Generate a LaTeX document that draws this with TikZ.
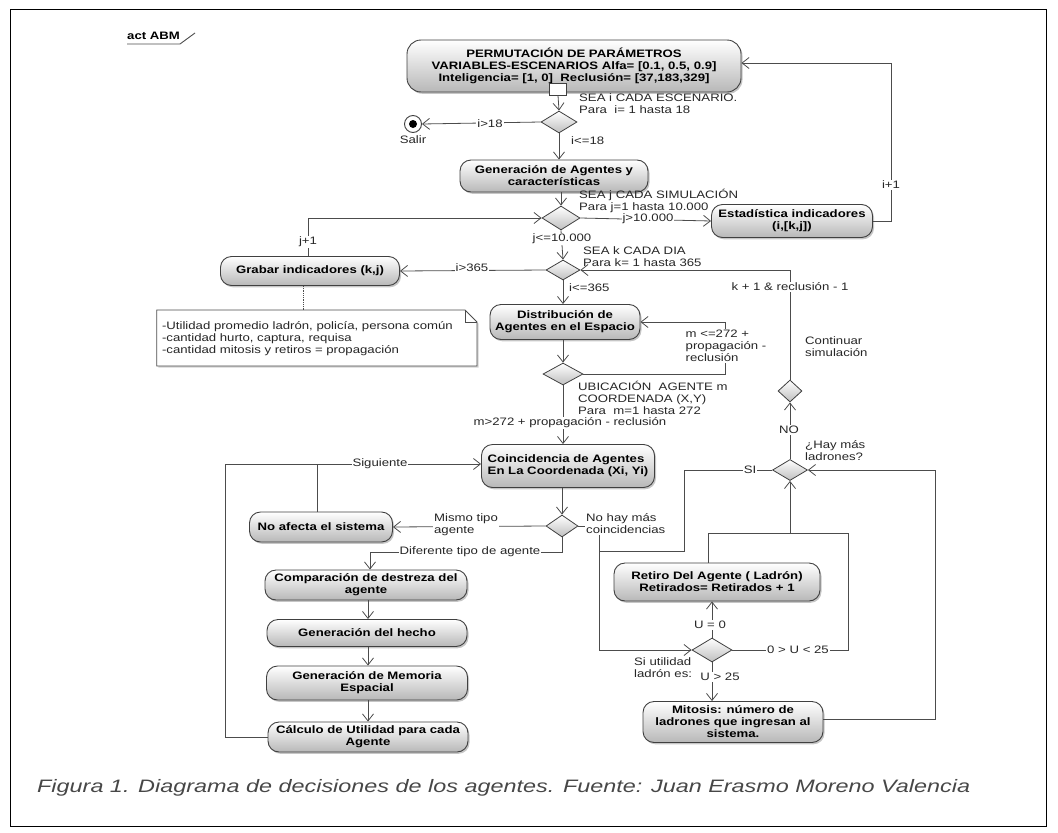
\documentclass[tikz,border=0pt]{standalone}
\usepackage{fontspec}
\setmainfont[FakeStretch=1.22]{Liberation Sans}
\newfontfamily\capfont[FakeStretch=1.3]{Liberation Sans}
\usetikzlibrary{shapes.geometric,arrows.meta,shadows}
\begin{document}
\begin{tikzpicture}[x=1pt,y=-1pt,
  act/.style={draw=black!75, line width=0.9pt, rounded corners=11pt, top color=white, bottom color=black!28,
    drop shadow={shadow xshift=1.5pt,shadow yshift=-1.8pt,opacity=0.45},
    font=\fontsize{10.8}{12}\selectfont\bfseries, align=center, inner sep=1pt},
  dec/.style={diamond, draw=black!75, line width=0.8pt, top color=white, bottom color=black!25, inner sep=0pt},
  lbl/.style={font=\fontsize{10.8}{12}\selectfont, text=black!85, inner sep=1pt, align=left},
  wl/.style={lbl, fill=white},
  flow/.style={draw=black!70, line width=0.8pt},
  arr/.style={flow, -{Straight Barb[length=7pt,width=11pt]}},
]
\useasboundingbox (0,0) rectangle (1058,833);
\draw[line width=1pt] (10,9) rectangle (1046,826);

% title tab
\node[font=\fontsize{10.8}{12}\selectfont\bfseries, anchor=west, inner sep=0pt] (title) at (127,36) {act ABM};
\draw[black!70, line width=0.9pt] (127,44) -- (180,44) -- (195,33);

% nodes
\node[act, minimum width=334pt, minimum height=52pt, rounded corners=14pt] (perm) at (574,66)
  {PERMUTACIÓN DE PARÁMETROS\\VARIABLES-ESCENARIOS Alfa= [0.1, 0.5, 0.9]\\Inteligencia= [1, 0]\ \ Reclusión= [37,183,329]};
\node[draw=black!75, line width=0.8pt, fill=white, minimum width=17pt, minimum height=12pt, inner sep=0pt] (fork) at (558,89) {};
\node[dec, minimum width=36pt, minimum height=22pt] (d1) at (559,122) {};
\node[circle, draw=black!75, line width=0.9pt, fill=white, minimum size=17pt, inner sep=0pt] (salir) at (413,124) {};
\node[circle, fill=black, minimum size=8pt, inner sep=0pt] (salirdot) at (salir) {};
\node[lbl] (salirl) at (413,140) {Salir};

\node[act, minimum width=188pt, minimum height=32pt] (gen) at (554,176) {Generación de Agentes y\\características};
\node[dec, minimum width=38pt, minimum height=24pt] (d2) at (561,218) {};
\node[act, minimum width=161pt, minimum height=33pt] (est) at (792,221) {Estadística indicadores\\(i,[k,j])};
\node[dec, minimum width=34pt, minimum height=20pt] (d3) at (563,270) {};
\node[act, minimum width=179pt, minimum height=29pt] (grabar) at (310,271) {Grabar indicadores (k,j)};
\node[act, minimum width=150pt, minimum height=35pt] (dist) at (565,322) {Distribución de\\Agentes en el Espacio};
\node[dec, minimum width=40pt, minimum height=22pt] (d4) at (563,374) {};
\node[act, minimum width=173pt, minimum height=43pt, align=left] (coin) at (568,466) {Coincidencia de Agentes\\En La Coordenada (Xi, Yi)};
\node[dec, minimum width=32pt, minimum height=22pt] (d5) at (562,526) {};
\node[act, minimum width=143pt, minimum height=30pt] (noaf) at (321,527) {No afecta el sistema};
\node[act, minimum width=202pt, minimum height=30pt] (comp) at (366,585) {Comparación de destreza del\\agente};
\node[act, minimum width=200pt, minimum height=27pt] (hecho) at (367,633) {Generación del hecho};
\node[act, minimum width=201pt, minimum height=34pt] (mem) at (367,683) {Generación de Memoria\\Espacial};
\node[act, minimum width=200pt, minimum height=30pt] (calc) at (368,737) {Cálculo de Utilidad para cada\\Agente};
\node[dec, minimum width=24pt, minimum height=22pt] (dcont) at (790,391) {};
\node[dec, minimum width=35pt, minimum height=21pt] (d7) at (790,470) {};
\node[act, minimum width=206pt, minimum height=38pt] (retiro) at (717,582) {Retiro Del Agente ( Ladrón)\\Retirados= Retirados + 1};
\node[dec, minimum width=40pt, minimum height=24pt] (d6) at (712,650) {};
\node[act, minimum width=180pt, minimum height=41pt] (mitosis) at (733,722) {Mitosis: número de\\ladrones que ingresan al\\sistema.};

% note (comment)
\node[lbl, anchor=east, inner sep=0pt] (notemeasure) at (453,339)
  {\phantom{-Utilidad promedio ladrón, policía, persona común}};
\coordinate (nNW) at ([xshift=-5pt]notemeasure.west |- 0,310);
\coordinate (nSW) at ([xshift=-5pt]notemeasure.west |- 0,366);
\coordinate (nNE) at (465,310);
\coordinate (nE) at (477,322);
\coordinate (nSE) at (477,366);
\coordinate (nF) at (465,322);
\coordinate (ntop) at (303,310);
\draw[draw=black!70, line width=0.8pt, fill=white, drop shadow={shadow xshift=1.5pt,shadow yshift=-1.5pt,opacity=0.35}]
  (nNW) -- (nNE) -- (nE) -- (nSE) -- (nSW) -- cycle;
\draw[draw=black!70, line width=0.8pt] (nNE) -- (nF) -- (nE);
\node[lbl, anchor=east, inner sep=0pt] (note) at (453,339)
  {-Utilidad promedio ladrón, policía, persona común\\-cantidad hurto, captura, requisa\\-cantidad mitosis y retiros = propagación};

% coordinates
\coordinate (c1) at (891,221);
\coordinate (c2) at (891,63);
\coordinate (c3) at (308,218);
\coordinate (c4) at (790,270);
\coordinate (c5) at (725,374);
\coordinate (c6) at (725,322);
\coordinate (c7) at (562,552);
\coordinate (c8) at (370,552);
\coordinate (c9) at (225,737);
\coordinate (c10) at (225,464);
\coordinate (c11) at (317,464);
\coordinate (c12) at (599,526);
\coordinate (c13) at (599,650);
\coordinate (c14) at (684,470);
\coordinate (c15) at (684,551);
\coordinate (c16) at (599,551);
\coordinate (c17) at (848,650);
\coordinate (c18) at (848,533);
\coordinate (c19) at (790,533);
\coordinate (c20) at (708,533);
\coordinate (c21) at (935,719);
\coordinate (c22) at (935,470);

% connectors
\draw[arr] (fork.south) -- (d1.north);
\draw[arr] (d1.west) -- (salir.east);
\draw[arr] (d1.south) -- (d1.south |- gen.north);
\draw[arr] (d2.north |- gen.south) -- (d2.north);
\draw[arr] (d2.east) -- (est.west);
\draw[arr] (est.east) -- (c1) -- (c2) -- (perm.east |- c2);
\draw[arr] (d2.south) -- (d3.north);
\draw[arr] (d3.west) -- (grabar.east);
\draw[arr] (grabar.north -| c3) -- (c3) -- (d2.west);
\draw[flow, densely dotted] (grabar.south -| ntop) -- (ntop);
\draw[arr] (d3.south) -- (d3.south |- dist.north);
\draw[arr] (dcont.north) -- (c4) -- (d3.east);
\draw[arr] (d4.north |- dist.south) -- (d4.north);
\draw[arr] (d4.east) -- (c5) -- (c6) -- (dist.east);
\draw[arr] (d4.south) -- (d4.south |- coin.north);
\draw[arr] (d5.north |- coin.south) -- (d5.north);
\draw[arr] (d5.west) -- (noaf.east);
\draw[arr] (d5.south) -- (c7) -- (c8) -- (c8 |- comp.north);
\draw[arr] (comp.south -| 368,0) -- (hecho.north -| 368,0);
\draw[arr] (hecho.south -| 368,0) -- (mem.north -| 368,0);
\draw[arr] (mem.south -| 368,0) -- (calc.north -| 368,0);
\draw[arr] (calc.west) -- (c9) -- (c10) -- (coin.west |- c10);
\draw[flow] (noaf.north -| c11) -- (c11);
\draw[arr] (d5.east) -- (c12) -- (c13) -- (d6.west);
\draw[flow] (d7.west) -- (c14) -- (c15) -- (c16);
\draw[arr] (d6.north) -- (d6.north |- retiro.south);
\draw[arr] (d6.east) -- (c17) -- (c18) -- (c19) -- (d7.south);
\draw[flow] (retiro.north -| c20) -- (c20) -- (c19);
\draw[arr] (d6.south) -- (d6.south |- mitosis.north);
\draw[arr] (mitosis.east |- c21) -- (c21) -- (c22) -- (d7.east);
\draw[arr] (d7.north) -- (dcont.south);

% labels
\node[lbl, anchor=west] (l1) at (578,104) {SEA i CADA ESCENARIO.\\Para\ \ i= 1 hasta 18};
\node[wl] (l2) at (490,124) {i>18};
\node[lbl, anchor=west] (l3) at (570,141) {i<=18};
\node[lbl, anchor=west] (l4) at (578,201) {SEA j CADA SIMULACIÓN\\Para j=1 hasta 10.000};
\node[wl] (l5) at (648,219) {j>10.000};
\node[wl] (l6) at (891,185) {i+1};
\node[wl] (l7) at (562,239) {j<=10.000};
\node[lbl, anchor=west] (l8) at (582,257) {SEA k CADA DIA\\Para k= 1 hasta 365};
\node[wl] (l9) at (472,268) {i>365};
\node[wl] (l10) at (308,242) {j+1};
\node[lbl, anchor=west] (l11) at (568,288) {i<=365};
\node[wl] (l12) at (790,287) {k + 1 \& reclusión - 1};
\node[wl] (l13) at (726,346) {m <=272 +\\propagación -\\reclusión};
\node[lbl, anchor=west] (l14) at (577,398) {UBICACIÓN\ \ AGENTE m\\COORDENADA (X,Y)\\Para\ \ m=1 hasta 272};
\node[wl] (l15) at (570,423) {m>272 + propagación - reclusión};
\node[wl] (l16) at (380,464) {Siguiente};
\node[wl] (l17) at (466,525) {Mismo tipo\\agente};
\node[wl] (l18) at (470,552) {Diferente tipo de agente};
\node[wl, anchor=west] (l19) at (585,524) {No hay más\\coincidencias};
\node[wl] (l20) at (750,470) {SI};
\node[wl] (l21) at (789,430) {NO};
\node[lbl, anchor=west] (l22) at (804,451) {¿Hay más\\ladrones?};
\node[lbl, anchor=west] (l23) at (804,347) {Continuar\\simulación};
\node[wl] (l24) at (710,625) {U = 0};
\node[wl] (l25) at (798,650) {0 > U < 25};
\node[wl] (l26) at (720,677) {U > 25};
\node[lbl, anchor=west] (l27) at (633,668) {Si utilidad\\ladrón es:};

% caption
\node[font=\capfont\fontsize{18}{20}\selectfont\itshape, text=black!72, anchor=west, inner sep=0pt] (cap) at (37,788)
  {Figura 1. Diagrama de decisiones de los agentes. Fuente: Juan Erasmo Moreno Valencia};
\end{tikzpicture}
\end{document}
